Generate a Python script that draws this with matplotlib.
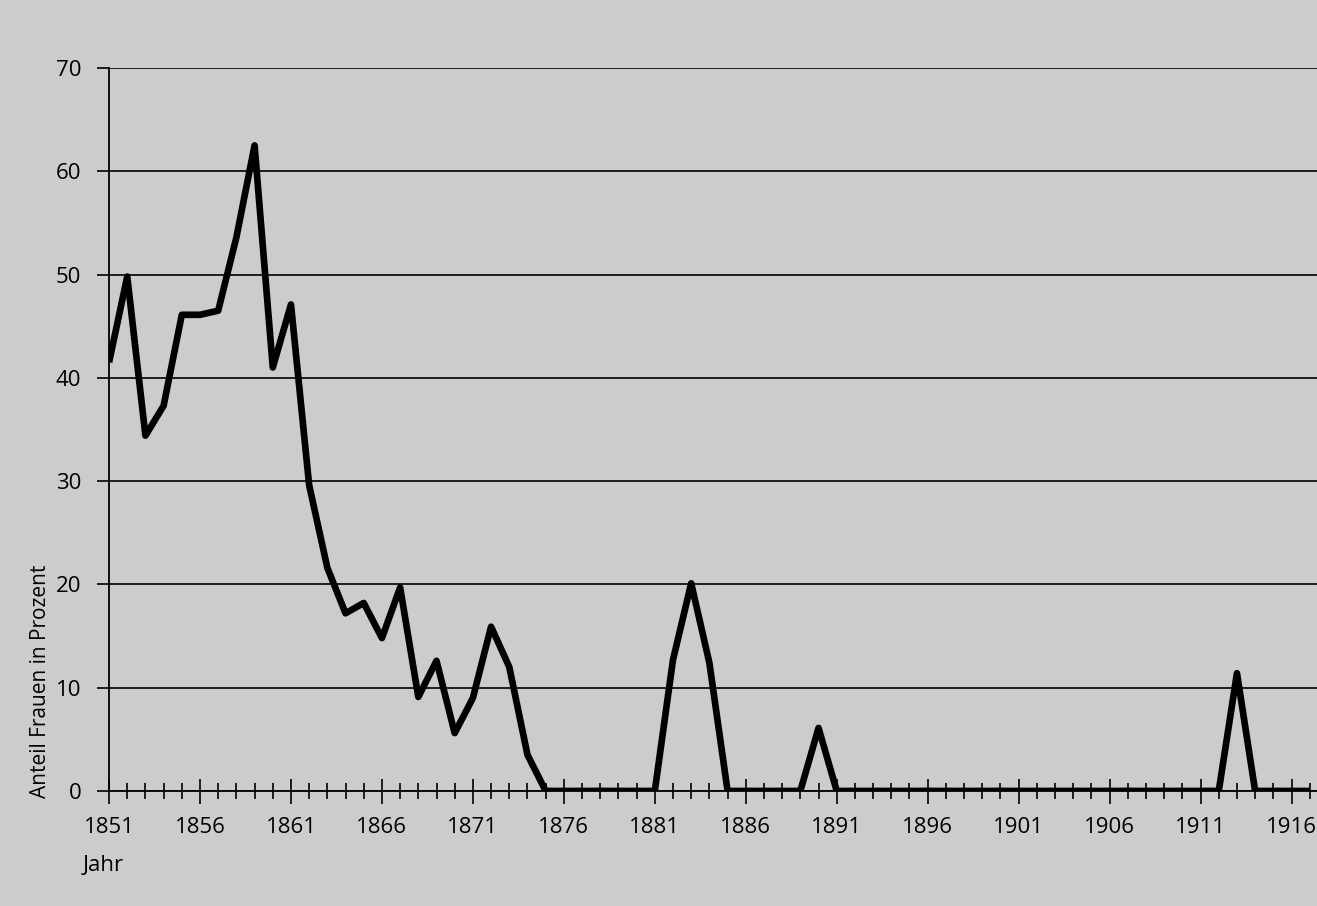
import matplotlib.pyplot as plt
from matplotlib.ticker import MultipleLocator

# --- data: share of women in percent, per year ---
years = list(range(1851, 1918))
values = [41.5, 49.8, 34.4, 37.3, 46.1, 46.1, 46.5, 53.6, 62.5, 41.0,
          47.1, 29.6, 21.6, 17.2, 18.2, 14.8, 19.7, 9.1, 12.6, 5.6,
          9.0, 15.9, 12.0, 3.5, 0, 0, 0, 0, 0, 0,
          0, 12.7, 20.1, 12.4, 0, 0, 0, 0, 0, 6.1,
          0, 0, 0, 0, 0, 0, 0, 0, 0, 0,
          0, 0, 0, 0, 0, 0, 0, 0, 0, 0,
          0, 0, 11.4, 0, 0, 0, 0]
major_years = list(range(1851, 1918, 5))

bg = "#cccccc"
plt.rcParams['font.family'] = ['Open Sans', 'DejaVu Sans']

fig = plt.figure(figsize=(13.17, 9.06), dpi=100, facecolor=bg)
ax = fig.add_axes([0.0828, 0.127, 0.9172, 0.798], facecolor=bg)

ax.plot(years, values, color="black", lw=4.8, solid_joinstyle="round",
        solid_capstyle="butt", zorder=3)

ax.set_xlim(1851, 1917.4)
ax.set_ylim(0, 70)
ax.set_yticks(range(0, 71, 10))
ax.set_xticks(major_years)
ax.xaxis.set_minor_locator(MultipleLocator(1))
ax.yaxis.grid(True, color="black", lw=1.2)
ax.set_axisbelow(True)

for s in ["top", "right"]:
    ax.spines[s].set_visible(False)
ax.spines["left"].set_linewidth(1.3)
ax.spines["bottom"].set_linewidth(1.3)

ax.tick_params(axis="y", length=9, width=1.2, labelsize=16, pad=11)
ax.tick_params(axis="x", which="major", direction="inout", length=18, width=1.2,
               labelsize=16, pad=10)
ax.tick_params(axis="x", which="minor", direction="inout", length=12, width=1.2)

fig.text(0.031, 0.119, "Anteil Frauen in Prozent", rotation=90, fontsize=15,
         ha="center", va="bottom")
fig.text(0.063, 0.045, "Jahr", fontsize=16, ha="left", va="center")

fig.savefig("out.png", dpi=100, facecolor=bg)
